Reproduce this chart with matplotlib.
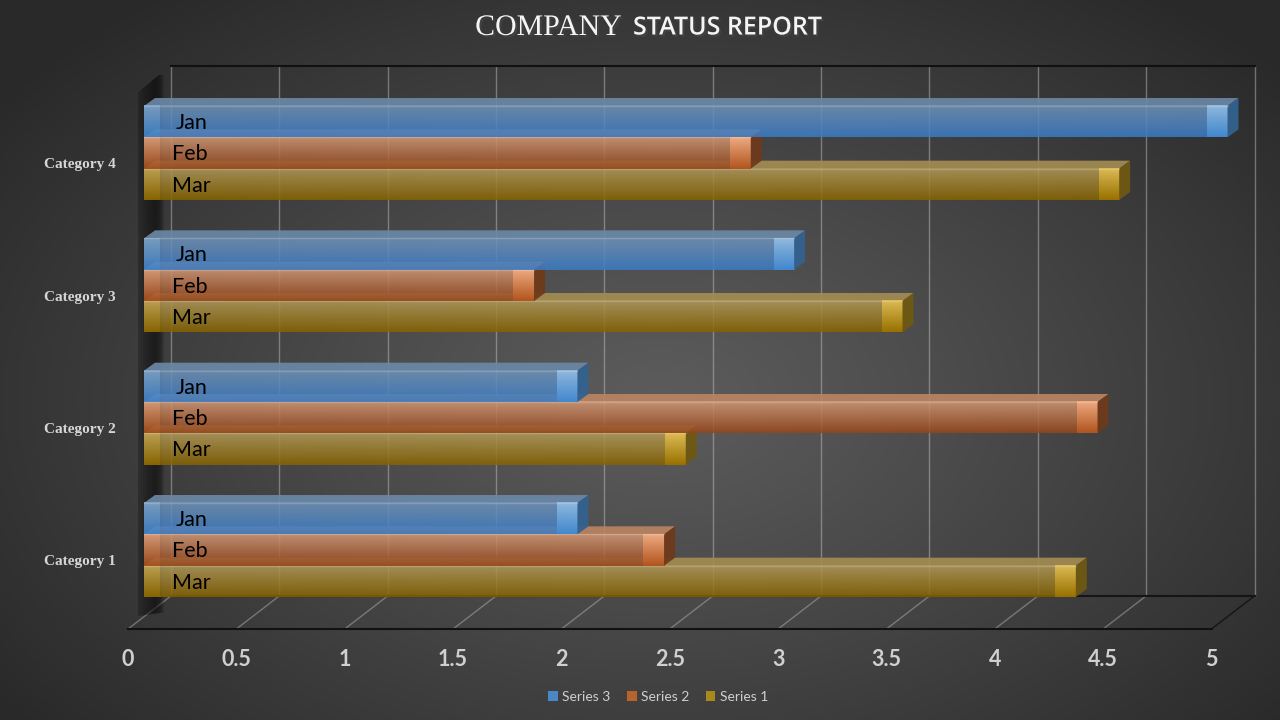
import numpy as np
import matplotlib.pyplot as plt
import matplotlib.colors as mcolors
from matplotlib.patches import Polygon, Patch
from matplotlib import patheffects

categories = ['Category 1', 'Category 2', 'Category 3', 'Category 4']
months = ['Jan', 'Feb', 'Mar']
series_names = ['Series 3', 'Series 2', 'Series 1']
jan = [2.0, 2.0, 3.0, 5.0]   # Series 3
feb = [2.4, 4.4, 1.8, 2.8]   # Series 2
mar = [4.3, 2.5, 3.5, 4.5]   # Series 1
x_ticks = [0, 0.5, 1, 1.5, 2, 2.5, 3, 3.5, 4, 4.5, 5]

# look of each series: front face top/bottom, end cap top/bottom, lid, side
styles = {
    'Jan': dict(top='#7193b8', bot='#3a7cc6', cap_top='#92bbe0', cap_bot='#4389d0',
                lid='#6b88a6', side='#33628f', leg='#4a86c8'),
    'Feb': dict(top='#d49a78', bot='#96461a', cap_top='#f0ac82', cap_bot='#b4561f',
                lid='#b98462', side='#6e3a1c', leg='#b8622c'),
    'Mar': dict(top='#b29a5a', bot='#876400', cap_top='#e0bd55', cap_bot='#9a7300',
                lid='#a38c52', side='#6f5812', leg='#a88a1c'),
}

W, H = 1280, 720
fig = plt.figure(figsize=(12.8, 7.2), dpi=100)

# background radial gradient
bg = fig.add_axes([0, 0, 1, 1], zorder=-10)
yy, xx = np.mgrid[0:H, 0:W]
r = np.sqrt(((xx - 660) / 820.0) ** 2 + ((yy - 400) / 520.0) ** 2)
r = np.clip(r, 0, 1) ** 1.1
lev = (0x5c - (0x5c - 0x29) * r) / 255.0
bg.imshow(np.dstack([lev, lev, lev]), extent=[0, W, H, 0], aspect='auto')
bg.set_axis_off()

# main axes: 1 unit of value = 216.7 px, 1 category = 132.33 px
px_x, px_y = 216.7, 132.33
x_lo, x_hi = -0.3, 5.2
y_lo, y_hi = -0.75, 3.75
ax = fig.add_axes([(144 + x_lo * px_x) / W, (170 + y_lo * px_y) / H,
                   (x_hi - x_lo) * px_x / W, (y_hi - y_lo) * px_y / H])
ax.set_facecolor('none')
ax.set_xlim(x_lo, x_hi)
ax.set_ylim(y_lo, y_hi)
ax.set_axis_off()

# 3d frame offsets (data units)
back_dx = 27 / px_x
front_dx = -16 / px_x
floor_back = -0.347
floor_front = -0.597
wall_top = 3.658
bh = 0.2367
dx, dy = 11 / px_x, 8 / px_y

xmax = x_ticks[-1]
# back wall grid
for t in x_ticks:
    ax.plot([t + back_dx, t + back_dx], [floor_back, wall_top], color='#c8c8c8',
            alpha=0.45, lw=1, zorder=1)
    if t < xmax:
        ax.plot([t + front_dx, t + back_dx], [floor_front, floor_back], color='#bdbdbd',
                alpha=0.45, lw=1, zorder=1)
ax.plot([back_dx, xmax + back_dx], [wall_top, wall_top], color='#111111', lw=1.5, zorder=1)
ax.plot([back_dx, xmax + back_dx], [floor_back, floor_back], color='#151515', lw=1.5, zorder=1)
ax.plot([xmax + front_dx, xmax + back_dx], [floor_front, floor_back], color='#151515', lw=1, zorder=1)
ax.plot([front_dx, xmax + front_dx], [floor_front, floor_front], color='#111111', lw=1.5, zorder=1)

# dark category wall on the left
wl, wr = -6 / px_x, 21 / px_x
wall = Polygon([(wl, -0.5), (wl, 3.46), (wr - 6 / px_x, 3.59), (wr, 3.59), (wr, -0.47)],
               closed=True, fc='none', ec='none')
ax.add_patch(wall)
prof = np.interp(np.linspace(0, 1, 40), [0, 0.3, 0.65, 0.85, 1], [0.22, 0.4, 0.55, 0.4, 0.0])
wimg = np.zeros((1, 40, 4))
wimg[..., 3] = prof
im = ax.imshow(wimg, extent=[wl, wr, -0.55, 3.6], aspect='auto', zorder=2,
               interpolation='bilinear')
im.set_clip_path(wall)


def vgrad(x0, x1, y0, y1, c_top, c_bot, alpha, z):
    g = np.linspace(0, 1, 32)[:, None, None]
    img = np.array(mcolors.to_rgb(c_top)) * (1 - g) + np.array(mcolors.to_rgb(c_bot)) * g
    ax.imshow(img, extent=[x0, x1, y0, y1], origin='upper', aspect='auto',
              interpolation='bilinear', alpha=alpha, zorder=z)


def bar3d(v, yc, st, z):
    y0, y1 = yc - bh / 2, yc + bh / 2
    ax.add_patch(Polygon([(0, y1), (v, y1), (v + dx, y1 + dy), (dx, y1 + dy)], closed=True,
                         fc=st['lid'], ec='none', alpha=0.92, zorder=z))
    vgrad(0, v, y0, y1, st['top'], st['bot'], 0.86, z)
    vgrad(0, 0.07, y0, y1, st['cap_top'], st['cap_bot'], 0.45, z)
    vgrad(v - 0.095, v, y0, y1, st['cap_top'], st['cap_bot'], 0.95, z)
    ax.add_patch(Polygon([(v, y0), (v + dx, y0 + dy), (v + dx, y1 + dy), (v, y1)], closed=True,
                         fc=st['side'], ec='none', alpha=0.95, zorder=z))
    ax.plot([0, v], [y1, y1], color='white', alpha=0.18, lw=1, zorder=z)


values = {'Jan': jan, 'Feb': feb, 'Mar': mar}
offsets = {'Jan': bh, 'Feb': 0.0, 'Mar': -bh}
for i, cat in enumerate(categories):
    for k, m in enumerate(['Mar', 'Feb', 'Jan']):
        yc = i + offsets[m]
        bar3d(values[m][i], yc, styles[m], 3 + i * 3 + k)
        ax.text(0.145 if m == 'Jan' else 0.13, yc - 0.01, m, ha='left', va='center',
                fontsize=15.5, family='Lato', color='black', zorder=20)
    ax.text(-0.13, i - 0.09, cat, ha='right', va='center', fontsize=11,
            family='Liberation Serif', fontweight='bold', color='#d6d6d6')

# value axis labels at the front edge
for t in x_ticks:
    ax.text(t + front_dx, floor_front - 0.23, f'{t:g}', ha='center', va='center',
            fontsize=15.5, family='Lato', fontweight='bold', color='#d0d0d0')

# title
shadow = [patheffects.withSimplePatchShadow(offset=(1.5, -1.5), alpha=0.6)]
fig.text(622 / W, 1 - 28 / H, 'COMPANY', ha='right', va='center', fontsize=21.5,
         family='Liberation Serif', color='#f4f4f4', path_effects=shadow)
fig.text(633 / W, 1 - 28 / H, 'STATUS REPORT', ha='left', va='center', fontsize=18,
         family='Open Sans', fontweight='semibold', color='#f4f4f4', path_effects=shadow)

handles = [Patch(fc=styles[m]['leg'], ec='none') for m in months]
fig.legend(handles, series_names, loc='center', bbox_to_anchor=(658 / W, 1 - 697 / H),
           ncol=3, frameon=False, labelcolor='#cfcfcf',
           handlelength=0.7, handleheight=0.7, handletextpad=0.3, columnspacing=1.2,
           prop={'family': 'Lato', 'size': 10})

fig.savefig('out.png', dpi=100)
